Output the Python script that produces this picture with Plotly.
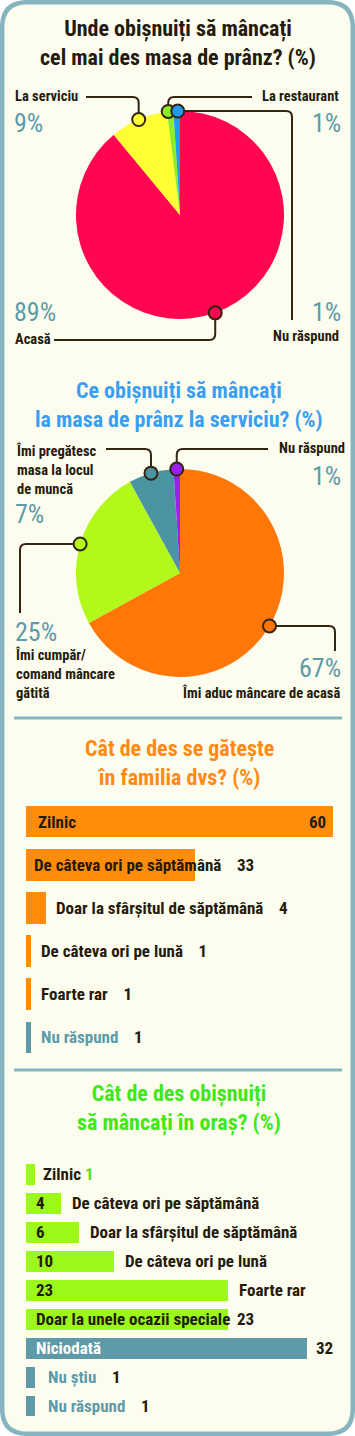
import math
import plotly.graph_objects as go

W, H = 355, 1436

# ---------------- data ----------------
pie1_title = "Unde obișnuiți să mâncați<br>cel mai des masa de prânz? (%)"
pie1_labels = ["Acasă", "La serviciu", "La restaurant", "Nu răspund"]
pie1_values = [89, 9, 1, 1]

pie2_title = "Ce obișnuiți să mâncați<br>la masa de prânz la serviciu? (%)"
pie2_labels = ["Îmi aduc mâncare de acasă", "Îmi cumpăr/<br>comand mâncare<br>gătită",
               "Îmi pregătesc<br>masa la locul<br>de muncă", "Nu răspund"]
pie2_values = [67, 25, 7, 1]

bar1_title = "Cât de des se gătește<br>în familia dvs? (%)"
bar1_labels = ["Zilnic", "De câteva ori pe săptămână", "Doar la sfârșitul de săptămână",
               "De câteva ori pe lună", "Foarte rar", "Nu răspund"]
bar1_values = [60, 33, 4, 1, 1, 1]

bar2_title = "Cât de des obișnuiți<br>să mâncați în oraș? (%)"
bar2_labels = ["Zilnic", "De câteva ori pe săptămână", "Doar la sfârșitul de săptămână",
               "De câteva ori pe lună", "Foarte rar", "Doar la unele ocazii speciale",
               "Niciodată", "Nu știu", "Nu răspund"]
bar2_values = [1, 4, 6, 10, 23, 23, 32, 1, 1]

# ---------------- styles ----------------
FONT = "Roboto Condensed, Open Sans Condensed, DejaVu Sans Condensed, sans-serif"
DARK = "#251b0c"
TEAL = "#5b9bab"
FRAME = "#86b5c0"
CREAM = "#fdfdef"
LEADER = "#33250f"

pie1_colors = ["#ff0650", "#ffff33", "#8fee22", "#1e9bf0"]
pie2_colors = ["#ff7708", "#b2f81a", "#4b95a2", "#9b22ee"]
bar1_colors = ["#ff8c0a"] * 5 + ["#5f9aa9"]
bar2_colors = ["#9cf81a"] * 6 + ["#5f9aa9"] * 3

fig = go.Figure()
shapes = []


def px(x):
    return x / W


def py(y):
    return 1 - y / H


def path(pts_cmds):
    out = []
    for cmd, *pts in pts_cmds:
        s = cmd
        for (x, y) in pts:
            s += f" {px(x):.5f},{py(y):.5f}"
        out.append(s)
    return " ".join(out)


def text(x, y, s, size=16, color=DARK, xanchor="left", weight="bold", yanchor="middle", align=None):
    fig.add_annotation(x=px(x), y=py(y), xref="paper", yref="paper", text=s,
                       showarrow=False,
                       xanchor=xanchor, yanchor=yanchor, align=align or xanchor,
                       font=dict(family=FONT, size=size, color=color, weight=weight))


# ---------------- frame ----------------
r = 25
x0, y0, x1, y1 = 2.2, 2.2, 352.8, 1433.8
shapes.append(dict(type="path", xref="paper", yref="paper", layer="below",
                   path=path([("M", (x0 + r, y0)), ("L", (x1 - r, y0)), ("Q", (x1, y0), (x1, y0 + r)),
                              ("L", (x1, y1 - r)), ("Q", (x1, y1), (x1 - r, y1)),
                              ("L", (x0 + r, y1)), ("Q", (x0, y1), (x0, y1 - r)),
                              ("L", (x0, y0 + r)), ("Q", (x0, y0), (x0 + r, y0)), ("Z",)]),
                   fillcolor=CREAM, line=dict(color=FRAME, width=4.5)))
for yy in (718, 1070):
    shapes.append(dict(type="line", xref="paper", yref="paper", x0=px(14), x1=px(342),
                       y0=py(yy), y1=py(yy), line=dict(color=FRAME, width=3)))

# ---------------- pies ----------------
R = 104


def add_pie(cx, cy, labels, values, colors):
    fig.add_trace(go.Pie(labels=labels, values=values, sort=False, direction="clockwise", rotation=0,
                         marker=dict(colors=colors, line=dict(width=0)), textinfo="none",
                         hoverinfo="label+percent", showlegend=False,
                         domain=dict(x=[px(cx - R), px(cx + R)], y=[py(cy + R), py(cy - R)])))
    tot = sum(values)
    pos, cum = [], 0
    for v in values:
        a = 2 * math.pi * (cum + v / 2) / tot
        pos.append((cx + R * math.sin(a), cy - R * math.cos(a)))
        cum += v
    return pos


def marker(p, color):
    x, y = p
    rr = 6.5
    shapes.append(dict(type="circle", xref="paper", yref="paper", x0=px(x - rr), x1=px(x + rr),
                       y0=py(y + rr), y1=py(y - rr), fillcolor=color, line=dict(color=LEADER, width=2)))


def leader(cmds):
    shapes.append(dict(type="path", xref="paper", yref="paper", path=path(cmds),
                       line=dict(color=LEADER, width=2)))


# pie 1
c1 = (180, 215)
p1 = add_pie(*c1, pie1_labels, pie1_values, pie1_colors)
(ax, ay), (sx, sy), (gx, gy), (bx, by) = p1
leader([("M", (ax, ay)), ("L", (ax, 334)), ("Q", (ax, 340), (ax - 6, 340)), ("L", (54, 340))])
leader([("M", (sx, sy)), ("L", (sx, 103)), ("Q", (sx, 97), (sx - 6, 97)), ("L", (86, 97))])
leader([("M", (gx - 2, gy)), ("L", (gx - 2, 103)), ("Q", (gx - 2, 97), (gx + 4, 97)), ("L", (252, 97))])
leader([("M", (bx, by)), ("L", (286, by)), ("Q", (292, by), (292, by + 6)), ("L", (292, 320))])
marker((ax, ay), pie1_colors[0])
marker((sx, sy), pie1_colors[1])
marker((gx - 2, gy), pie1_colors[2])
marker((bx + 1, by), pie1_colors[3])

PCT = 26
PW = "normal"
LS = 14.5
text(13, 97, pie1_labels[1], LS)
text(12, 123, f"{pie1_values[1]}%", PCT, TEAL, weight=PW)
text(341, 97, pie1_labels[2], LS, xanchor="right")
text(343, 123, f"{pie1_values[2]}%", PCT, TEAL, xanchor="right", weight=PW)
text(12, 312, f"{pie1_values[0]}%", PCT, TEAL, weight=PW)
text(13, 340, pie1_labels[0], LS)
text(343, 312, f"{pie1_values[3]}%", PCT, TEAL, xanchor="right", weight=PW)
text(341, 336, pie1_labels[3], LS, xanchor="right")

# pie 2
c2 = (180, 573)
p2 = add_pie(*c2, pie2_labels, pie2_values, pie2_colors)
(ox, oy), (vx, vy), (tx, ty), (ux, uy) = p2
leader([("M", (ox, oy)), ("L", (329, oy)), ("Q", (335, oy), (335, oy + 6)), ("L", (335, 651))])
leader([("M", (vx, vy)), ("L", (26, vy)), ("Q", (20, vy), (20, vy + 6)), ("L", (20, 613))])
leader([("M", (tx, ty)), ("L", (tx, 455)), ("Q", (tx, 449), (tx - 6, 449)), ("L", (106, 449))])
leader([("M", (ux, uy)), ("L", (ux, 455)), ("Q", (ux, 449), (ux + 6, 449)), ("L", (268, 449))])
for p, c in zip(p2, pie2_colors):
    marker(p, c)

text(14, 470, pie2_labels[2], LS)
text(13, 514, f"{pie2_values[2]}%", PCT, TEAL, weight=PW)
text(347, 449, pie2_labels[3], LS, xanchor="right")
text(343, 476, f"{pie2_values[3]}%", PCT, TEAL, xanchor="right", weight=PW)
text(13, 632, f"{pie2_values[1]}%", PCT, TEAL, weight=PW)
text(13, 674, pie2_labels[1], LS)
text(343, 668, f"{pie2_values[0]}%", PCT, TEAL, xanchor="right", weight=PW)
text(342, 693, pie2_labels[0], LS, xanchor="right")

# ---------------- titles ----------------
TS = 22
text(178, 43, pie1_title, TS, DARK, xanchor="center")
text(179, 405, pie2_title, TS, "#3a9ff2", xanchor="center")
text(179, 763, bar1_title, TS, "#ff8a14", xanchor="center")
text(179, 1108, bar2_title, TS, "#40e818", xanchor="center")

# ---------------- bar charts ----------------
n1, n2 = len(bar1_values), len(bar2_values)
fig.add_trace(go.Bar(x=bar1_values, y=list(range(n1)), orientation="h", width=0.73,
                     marker=dict(color=bar1_colors, line=dict(width=0)), xaxis="x", yaxis="y",
                     showlegend=False, hovertext=bar1_labels, hoverinfo="text+x"))
fig.add_trace(go.Bar(x=bar2_values, y=list(range(n2)), orientation="h", width=0.72,
                     marker=dict(color=bar2_colors, line=dict(width=0)), xaxis="x2", yaxis="y2",
                     showlegend=False, hovertext=bar2_labels, hoverinfo="text+x"))

NB = "\u00a0"
BS = 17


def bar_ann(xa, ya, x, y, s, shift, color=DARK, anchor="left"):
    fig.add_annotation(x=x, y=y, xref=xa, yref=ya, text=s,
                       showarrow=False, xanchor=anchor,
                       yanchor="middle", xshift=shift,
                       font=dict(family=FONT, size=BS, color=color, weight="bold"))


modes1 = ["in_end", "in_follow", "out_follow", "out_follow", "out_follow", "out_follow"]
label_colors1 = [DARK] * 5 + [TEAL]
for i, (lab, v, m, lc) in enumerate(zip(bar1_labels, bar1_values, modes1, label_colors1)):
    if m == "in_end":
        bar_ann("x", "y", 0, i, lab, 10, lc)
        bar_ann("x", "y", v, i, str(v), -5, DARK, "right")
    else:
        x0s, sh = (0, 6) if m == "in_follow" else (v, 8)
        bar_ann("x", "y", x0s, i,
                f"<span style='color:{lc}'>{lab}</span>{NB * 4}{v}", sh)

modes2 = ["out_inline", "val_in", "val_in", "val_in", "val_in", "lab_in", "lab_in", "out_follow", "out_follow"]
label_colors2 = [DARK] * 6 + ["#ffffff", TEAL, TEAL]
for i, (lab, v, m, lc) in enumerate(zip(bar2_labels, bar2_values, modes2, label_colors2)):
    if m == "out_inline":
        bar_ann("x2", "y2", v, i, f"{lab}<span style='color:#55e022'>{NB}{v}</span>", 6)
    elif m == "val_in":
        bar_ann("x2", "y2", 0, i, str(v), 8)
        bar_ann("x2", "y2", v, i, lab, 9)
    elif m == "lab_in":
        bar_ann("x2", "y2", 0, i, lab, 8, lc)
        bar_ann("x2", "y2", v, i, str(v), 7)
    else:
        bar_ann("x2", "y2", v, i, f"<span style='color:{lc}'>{lab}</span>{NB * 4}{v}", 11)

ax_common = dict(visible=False, fixedrange=True)
fig.update_layout(
    width=W, height=H, margin=dict(l=0, r=0, t=0, b=0, pad=0), autosize=False,
    paper_bgcolor="#ffffff", plot_bgcolor="rgba(0,0,0,0)", bargap=0,
    shapes=shapes,
    xaxis=dict(domain=[px(26), px(333)], range=[0, 60], anchor="y", **ax_common),
    yaxis=dict(domain=[py(1059), py(800)], range=[n1 - 0.5, -0.5], anchor="x", **ax_common),
    xaxis2=dict(domain=[px(26), px(307)], range=[0, 32], anchor="y2", **ax_common),
    yaxis2=dict(domain=[py(1420.5), py(1160)], range=[n2 - 0.5, -0.5], anchor="x2", **ax_common),
)

fig.write_html("out.html", config={"displayModeBar": False},
               post_script="document.body.style.margin='0';document.body.style.overflow='hidden';")
